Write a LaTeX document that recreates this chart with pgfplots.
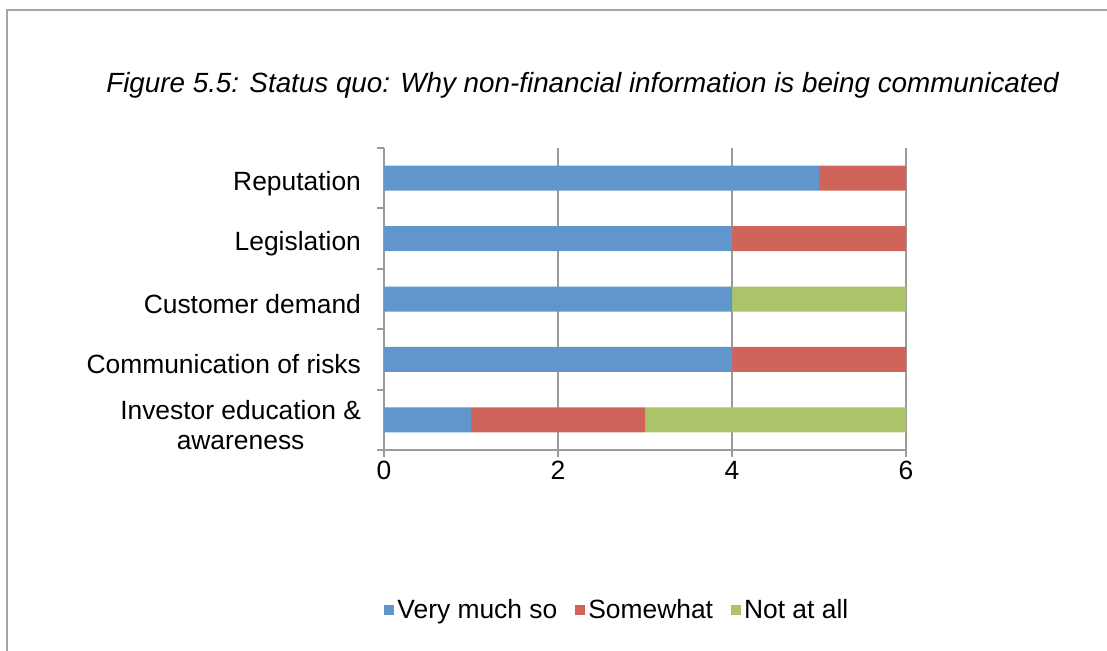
\documentclass[border=0pt]{standalone}
\usepackage{fontspec}
\setmainfont{Liberation Sans}
\usepackage{pgfplots}
\pgfplotsset{compat=1.18}
\definecolor{cblue}{RGB}{96,150,203}
\definecolor{cred}{RGB}{208,100,91}
\definecolor{cgreen}{RGB}{171,196,106}
\definecolor{cgrid}{RGB}{155,155,155}
\definecolor{cframe}{RGB}{165,165,165}
\begin{document}
\begin{tikzpicture}[x=1pt,y=1pt]
\useasboundingbox (0,0) rectangle (553.5,-325);
\draw[cframe,line width=1.1pt] (3.6,-330) -- (3.6,-5) -- (560,-5);
\node[font=\fontsize{13.9}{16}\selectfont\itshape] at (582.5*0.5,-85*0.5) {Figure 5.5: Status quo: Why non-financial information is being communicated};
\begin{axis}[
  at={(192pt,-225pt)}, anchor=south west,
  scale only axis, width=261pt, height=151pt,
  xbar stacked, bar width=12.5pt,
  xmin=0, xmax=6, ymin=-0.5, ymax=4.5,
  axis lines*=left,
  axis line style={cgrid,line width=1pt,-},
  xtick={0,2,4,6},
  major x tick style={cgrid,line width=1pt},
  major tick length=3.5pt,
  xmajorgrids, grid style={cgrid,line width=1pt},
  ytick={0,1,2,3,4},
  yticklabels={{Investor education \&\\awareness},{Communication of risks},{Customer demand},{Legislation},{Reputation}},
  major y tick style={draw=none},
  minor ytick={-0.5,0.5,1.5,2.5,3.5,4.5},
  minor y tick style={cgrid,line width=1pt},
  minor tick length=3.5pt,
  tick align=outside,
  yticklabel style={align=center,font=\fontsize{13.2}{15}\selectfont, xshift=-4.5pt, yshift=-2.5pt},
  xticklabel style={font=\fontsize{13.2}{15}\selectfont, yshift=1.5pt},
  /pgf/number format/assume math mode=true,
  legend style={at={(0.448,-0.53)}, anchor=center, draw=none, legend columns=3,
    font=\fontsize{13.2}{15}\selectfont, nodes={inner xsep=1.5pt},
    /tikz/every even column/.append style={column sep=7.5pt}},
  legend image code/.code={\fill[#1] (0pt,-2.5pt) rectangle (5pt,2.5pt);},
  clip=false,
]
\addplot[fill=cblue,draw=none] coordinates {(1,0) (4,1) (4,2) (4,3) (5,4)};
\addplot[fill=cred,draw=none] coordinates {(2,0) (2,1) (0,2) (2,3) (1,4)};
\addplot[fill=cgreen,draw=none] coordinates {(3,0) (0,1) (2,2) (0,3) (0,4)};
\legend{Very much so,Somewhat,Not at all}
\end{axis}
\end{tikzpicture}
\end{document}
